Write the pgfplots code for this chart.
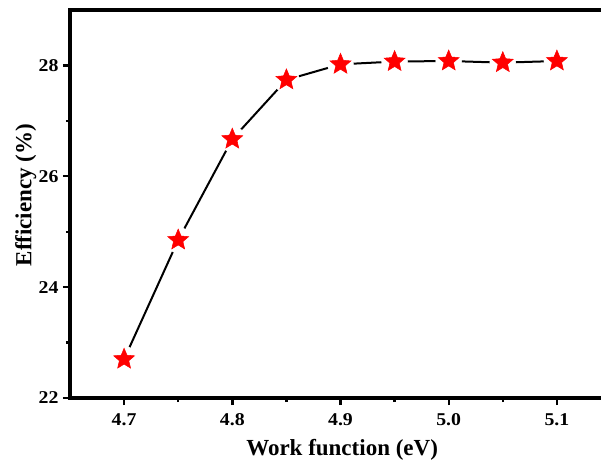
\documentclass[border=0pt]{standalone}
\usepackage{fontspec}
\setmainfont{Liberation Serif}
\newfontfamily\tickfont{Liberation Serif}[FakeStretch=1.1]
\usepackage{pgfplots}
\pgfplotsset{compat=1.18}
\pgfdeclareplotmark{fstar}{%
  \pgfpathmoveto{\pgfpointpolar{90}{\pgfplotmarksize}}%
  \pgfpathlineto{\pgfpointpolar{126}{0.45\pgfplotmarksize}}%
  \pgfpathlineto{\pgfpointpolar{162}{\pgfplotmarksize}}%
  \pgfpathlineto{\pgfpointpolar{198}{0.45\pgfplotmarksize}}%
  \pgfpathlineto{\pgfpointpolar{234}{\pgfplotmarksize}}%
  \pgfpathlineto{\pgfpointpolar{270}{0.45\pgfplotmarksize}}%
  \pgfpathlineto{\pgfpointpolar{306}{\pgfplotmarksize}}%
  \pgfpathlineto{\pgfpointpolar{342}{0.45\pgfplotmarksize}}%
  \pgfpathlineto{\pgfpointpolar{18}{\pgfplotmarksize}}%
  \pgfpathlineto{\pgfpointpolar{54}{0.45\pgfplotmarksize}}%
  \pgfpathclose
  \pgfusepathqfillstroke
}
\begin{document}
\begin{tikzpicture}
\begin{axis}[
  at={(70pt,63pt)}, anchor=south west,
  scale only axis, width=541pt, height=388pt,
  xmin=4.65, xmax=5.15, ymin=22, ymax=29,
  xtick={4.7,4.8,4.9,5.0,5.1},
  ytick={22,24,26,28},
  minor x tick num=1, minor y tick num=1,
  tick pos=left, tick align=outside,
  major tick length=7pt, minor tick length=4pt,
  every tick/.style={line width=2.4pt, black},
  axis line style={line width=3.2pt},
  /pgf/number format/assume math mode=true,
  /pgf/number format/fixed, /pgf/number format/fixed zerofill,
  xticklabel style={/pgf/number format/precision=1, yshift=-5pt},
  yticklabel style={/pgf/number format/precision=0, xshift=-1pt},
  ticklabel style={font=\tickfont\fontsize{18}{21}\selectfont\bfseries},
  xlabel={Work function (eV)},
  ylabel={Efficiency (\%)},
  label style={font=\fontsize{23}{27}\selectfont\bfseries},
  xlabel style={at={(axis description cs:0.503,-0.133)}, anchor=center},
  ylabel style={at={(axis description cs:-0.082,0.523)}, anchor=center},
]
\addplot[black, line width=2pt] coordinates {
(4.70,22.70) (4.75,24.85) (4.80,26.67) (4.85,27.74) (4.90,28.02)
(4.95,28.07) (5.00,28.08) (5.05,28.05) (5.10,28.08)};
\addplot[only marks, mark=*, mark size=13pt, white, mark options={draw=white, fill=white}] coordinates {
(4.70,22.70) (4.75,24.85) (4.80,26.67) (4.85,27.74) (4.90,28.02)
(4.95,28.07) (5.00,28.08) (5.05,28.05) (5.10,28.08)};
\addplot[only marks, mark=fstar, mark size=11pt, mark options={draw=red, fill=red, line width=0.5pt}] coordinates {
(4.70,22.70) (4.75,24.85) (4.80,26.67) (4.85,27.74) (4.90,28.02)
(4.95,28.07) (5.00,28.08) (5.05,28.05) (5.10,28.08)};
\end{axis}
\pgfresetboundingbox
\useasboundingbox (0,0) rectangle (601pt,461pt);
\end{tikzpicture}
\end{document}
